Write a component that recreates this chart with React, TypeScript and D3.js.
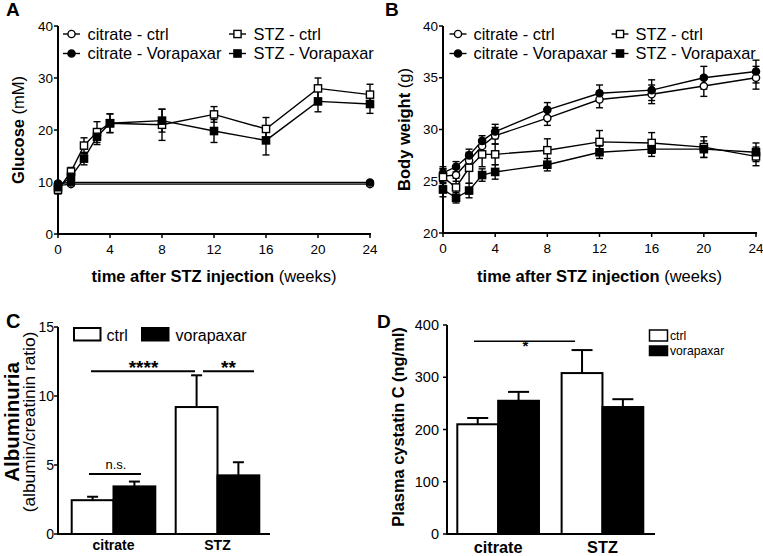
import React from "react";
import * as d3 from "d3";

const weeks = [0, 1, 2, 3, 4, 8, 12, 16, 20, 24];
const citWeeks = [0, 1, 24];

// Panel A: glucose (mM)
const gluCitCtrl = [9.3, 9.6, 9.6];
const gluCitCtrlErr = [0.4, 0.3, 0.3];
const gluCitVora = [9.7, 9.9, 9.9];
const gluCitVoraErr = [0.4, 0.3, 0.3];
const gluStzCtrl = [8.5, 12.0, 17.0, 19.6, 21.3, 21.0, 23.0, 20.2, 28.0, 26.8];
const gluStzCtrlErr = [0.8, 0.8, 1.5, 2.0, 1.8, 3.0, 1.5, 2.2, 2.0, 2.0];
const gluStzVora = [9.0, 11.0, 14.5, 18.7, 21.3, 21.8, 19.8, 18.0, 25.5, 25.0];
const gluStzVoraErr = [0.8, 1.0, 1.2, 1.5, 1.8, 2.2, 2.2, 2.8, 2.0, 1.8];

// Panel B: body weight (g)
const bwCitCtrl = [25.5, 25.6, 27.0, 28.4, 29.4, 31.1, 32.9, 33.4, 34.2, 35.0];
const bwCitCtrlErr = [0.7, 0.6, 0.7, 0.6, 0.8, 0.7, 0.8, 0.9, 1.0, 1.1];
const bwCitVora = [25.8, 26.4, 27.5, 28.9, 29.8, 31.9, 33.5, 33.8, 35.0, 35.6];
const bwCitVoraErr = [0.6, 0.5, 0.6, 0.5, 0.7, 0.7, 0.8, 1.0, 1.1, 1.1];
const bwStzCtrl = [25.4, 24.4, 26.3, 27.6, 27.6, 28.0, 28.8, 28.7, 28.3, 27.4];
const bwStzCtrlErr = [0.8, 0.9, 1.5, 1.2, 1.0, 1.1, 1.1, 1.0, 1.0, 0.9];
const bwStzVora = [24.2, 23.4, 24.1, 25.6, 25.9, 26.6, 27.8, 28.1, 28.1, 27.8];
const bwStzVoraErr = [0.7, 0.5, 0.7, 0.6, 0.7, 0.6, 0.6, 0.7, 0.8, 0.9];

const seriesNames = ["citrate - ctrl", "citrate - Vorapaxar", "STZ - ctrl", "STZ - Vorapaxar"];
const xTicks = [0, 4, 8, 12, 16, 20, 24];

// Panels C, D
const groups = ["citrate", "STZ"];
const treatments = ["ctrl", "vorapaxar"];
const albCtrl = [2.45, 9.2];
const albCtrlErr = [0.25, 2.3];
const albVora = [3.45, 4.25];
const albVoraErr = [0.35, 0.95];
const cysCtrl = [210, 308];
const cysCtrlErr = [12, 44];
const cysVora = [255, 243];
const cysVoraErr = [17, 15];

const FONT = "'Liberation Sans', Arial, sans-serif";

type Series = { x: number[]; y: number[]; e: number[]; marker: "circle" | "square"; filled: boolean };

function Marker({ x, y, kind, filled }: { x: number; y: number; kind: string; filled: boolean }) {
  const fill = filled ? "#000" : "#fff";
  if (kind === "circle") return <circle cx={x} cy={y} r={3.6} fill={fill} stroke="#000" strokeWidth={1.4} />;
  return <rect x={x - 3.6} y={y - 3.6} width={7.2} height={7.2} fill={fill} stroke="#000" strokeWidth={1.4} />;
}

function LinePanel({
  series, xr, yr, yDomain, yTicks, letter, letterX, titleBold, titleNorm, titleX, legendX, legendX2, textOff,
}: any) {
  const x = d3.scaleLinear().domain([0, 24]).range(xr);
  const y = d3.scaleLinear().domain(yDomain).range(yr);
  const line = d3.line<[number, number]>().x((d) => x(d[0])).y((d) => y(d[1]));
  const xMid = (xr[0] + xr[1]) / 2;
  return (
    <g>
      <text x={letterX} y={16} fontSize={19} fontWeight="bold">{letter}</text>
      {/* axes */}
      <line x1={xr[0]} x2={xr[0]} y1={yr[0] + 1} y2={yr[1]} stroke="#000" strokeWidth={2} />
      <line x1={xr[0] - 1} x2={xr[1] + 1} y1={yr[0]} y2={yr[0]} stroke="#000" strokeWidth={2} />
      {yTicks.map((t: number) => (
        <g key={"y" + t}>
          <line x1={xr[0] - 4} x2={xr[0]} y1={y(t)} y2={y(t)} stroke="#000" strokeWidth={1.5} />
          <text x={xr[0] - 5} y={y(t) + 4.5} fontSize={13.5} textAnchor="end">{t}</text>
        </g>
      ))}
      {xTicks.map((t) => (
        <g key={"x" + t}>
          <line x1={x(t)} x2={x(t)} y1={yr[0]} y2={yr[0] + 4} stroke="#000" strokeWidth={1.5} />
          <text x={x(t)} y={yr[0] + 20} fontSize={13.5} textAnchor="middle">{t}</text>
        </g>
      ))}
      <text x={xMid} y={282} fontSize={16.5} textAnchor="middle">
        <tspan fontWeight="bold">time after STZ injection</tspan> (weeks)
      </text>
      <text transform={`translate(${titleX},${(yr[0] + yr[1]) / 2}) rotate(-90)`} fontSize={16.5} textAnchor="middle">
        <tspan fontWeight="bold">{titleBold}</tspan> {titleNorm}
      </text>
      {/* series */}
      {series.map((s: Series, i: number) => {
        const pts = s.x.map((v, j) => [v, s.y[j]] as [number, number]);
        return (
          <g key={i}>
            <path d={line(pts) || ""} fill="none" stroke="#000" strokeWidth={1.4} />
            {pts.map((p, j) => (
              <g key={j}>
                <line x1={x(p[0])} x2={x(p[0])} y1={y(p[1] - s.e[j])} y2={y(p[1] + s.e[j])} stroke="#000" strokeWidth={1.4} />
                <line x1={x(p[0]) - 3.5} x2={x(p[0]) + 3.5} y1={y(p[1] - s.e[j])} y2={y(p[1] - s.e[j])} stroke="#000" strokeWidth={1.4} />
                <line x1={x(p[0]) - 3.5} x2={x(p[0]) + 3.5} y1={y(p[1] + s.e[j])} y2={y(p[1] + s.e[j])} stroke="#000" strokeWidth={1.4} />
              </g>
            ))}
          </g>
        );
      })}
      {series.map((s: Series, i: number) => (
        <g key={"m" + i}>
          {s.x.map((v, j) => (
            <Marker key={j} x={x(v)} y={y(s.y[j])} kind={s.marker} filled={s.filled} />
          ))}
        </g>
      ))}
      {/* legend */}
      {series.map((s: Series, i: number) => {
        const lx = i < 2 ? legendX : legendX2;
        const ly = i % 2 === 0 ? 34 : 53.5;
        return (
          <g key={"l" + i}>
            <line x1={lx - 8.5} x2={lx + 8.5} y1={ly} y2={ly} stroke="#000" strokeWidth={1.4} />
            <Marker x={lx} y={ly} kind={s.marker} filled={s.filled} />
            <text x={lx + textOff} y={ly + 5.5} fontSize={16.4}>{seriesNames[i]}</text>
          </g>
        );
      })}
    </g>
  );
}

function BarPanel({
  ctrl, ctrlErr, vora, voraErr, axisX, axisEnd, barStart, barEnd, pad, yDomain, yTicks, yr, capW,
  tickFont, tickGap, groupFont, groupY, children,
}: any) {
  const y = d3.scaleLinear().domain(yDomain).range(yr);
  const gx = d3.scaleBand().domain(groups).range([barStart, barEnd]).paddingInner(pad).paddingOuter(0);
  const tx = d3.scaleBand().domain(treatments).range([0, gx.bandwidth()]).padding(0);
  const vals = [ctrl, vora];
  const errs = [ctrlErr, voraErr];
  return (
    <g>
      {groups.map((g, gi) =>
        treatments.map((t, ti) => {
          const bx = (gx(g) as number) + (tx(t) as number);
          const w = tx.bandwidth();
          const v = vals[ti][gi];
          const e = errs[ti][gi];
          const cx = bx + w / 2;
          return (
            <g key={g + t}>
              <line x1={cx} x2={cx} y1={y(v)} y2={y(v + e)} stroke="#000" strokeWidth={2} />
              <line x1={cx - capW / 2} x2={cx + capW / 2} y1={y(v + e)} y2={y(v + e)} stroke="#000" strokeWidth={2} />
              <rect x={bx} y={y(v)} width={w} height={y(yDomain[0]) - y(v)} fill={ti === 0 ? "#fff" : "#000"} stroke="#000" strokeWidth={2} />
            </g>
          );
        })
      )}
      <line x1={axisX} x2={axisX} y1={yr[0] + 1} y2={yr[1]} stroke="#000" strokeWidth={2} />
      <line x1={axisX - 1} x2={axisEnd} y1={yr[0]} y2={yr[0]} stroke="#000" strokeWidth={2} />
      {yTicks.map((t: number) => (
        <g key={t}>
          <line x1={axisX - 4} x2={axisX} y1={y(t)} y2={y(t)} stroke="#000" strokeWidth={1.5} />
          <text x={axisX - tickGap} y={y(t) + 5} fontSize={tickFont} textAnchor="end">{t}</text>
        </g>
      ))}
      {groups.map((g) => (
        <text key={g} x={(gx(g) as number) + gx.bandwidth() / 2} y={groupY} fontSize={groupFont} fontWeight="bold" textAnchor="middle">{g}</text>
      ))}
      {children(y)}
    </g>
  );
}

export default function App() {
  const seriesA: Series[] = [
    { x: citWeeks, y: gluCitCtrl, e: gluCitCtrlErr, marker: "circle", filled: false },
    { x: citWeeks, y: gluCitVora, e: gluCitVoraErr, marker: "circle", filled: true },
    { x: weeks, y: gluStzCtrl, e: gluStzCtrlErr, marker: "square", filled: false },
    { x: weeks, y: gluStzVora, e: gluStzVoraErr, marker: "square", filled: true },
  ];
  const seriesB: Series[] = [
    { x: weeks, y: bwCitCtrl, e: bwCitCtrlErr, marker: "circle", filled: false },
    { x: weeks, y: bwCitVora, e: bwCitVoraErr, marker: "circle", filled: true },
    { x: weeks, y: bwStzCtrl, e: bwStzCtrlErr, marker: "square", filled: false },
    { x: weeks, y: bwStzVora, e: bwStzVoraErr, marker: "square", filled: true },
  ];
  return (
    <svg width={763} height={556} style={{ position: "absolute", left: 0, top: 0, background: "#fff" }} fontFamily={FONT}>
      <rect width={763} height={556} fill="#fff" />
      <LinePanel series={seriesA} xr={[58, 370]} yr={[234, 26]} yDomain={[0, 40]} yTicks={[0, 10, 20, 30, 40]}
        letter="A" letterX={6} titleBold="Glucose" titleNorm="(mM)" titleX={23.5} legendX={71.5} legendX2={237.5} textOff={16} />
      <LinePanel series={seriesB} xr={[443, 756]} yr={[233, 26]} yDomain={[20, 40]} yTicks={[20, 25, 30, 35, 40]}
        letter="B" letterX={385} titleBold="Body weight" titleNorm="(g)" titleX={410} legendX={458} legendX2={620} textOff={15.5} />

      {/* Panel C */}
      <text x={6} y={328} fontSize={20} fontWeight="bold">C</text>
      <text transform="translate(18.5,422) rotate(-90)" fontSize={20.5} fontWeight="bold" textAnchor="middle">Albuminuria</text>
      <text transform="translate(34.5,422) rotate(-90)" fontSize={17.3} textAnchor="middle">(albumin/creatinin ratio)</text>
      <BarPanel ctrl={albCtrl} ctrlErr={albCtrlErr} vora={albVora} voraErr={albVoraErr}
        axisX={58} axisEnd={270} barStart={71.7} barEnd={259.3} pad={0.196} yDomain={[0, 15]} yTicks={[0, 5, 10, 15]}
        yr={[534, 327]} capW={11} tickFont={14} tickGap={4} groupFont={14} groupY={550}>
        {(y: any) => (
          <g>
            <line x1={91} x2={195} y1={y(11.8)} y2={y(11.8)} stroke="#000" strokeWidth={2} />
            <text x={143.5} y={y(11.8) + 3} fontSize={19} fontWeight="bold" textAnchor="middle">****</text>
            <line x1={203} x2={254} y1={y(11.8)} y2={y(11.8)} stroke="#000" strokeWidth={2} />
            <text x={228.5} y={y(11.8) + 3} fontSize={19} fontWeight="bold" textAnchor="middle">**</text>
            <line x1={89} x2={141} y1={y(4.35)} y2={y(4.35)} stroke="#000" strokeWidth={2} />
            <text x={116} y={y(4.35) - 4.5} fontSize={13} textAnchor="middle">n.s.</text>
            <rect x={74} y={328} width={26.5} height={12.5} fill="#fff" stroke="#000" strokeWidth={2} />
            <text x={106.5} y={340.5} fontSize={16}>ctrl</text>
            <rect x={142} y={328} width={26.5} height={12.5} fill="#000" stroke="#000" strokeWidth={2} />
            <text x={175.5} y={340.5} fontSize={16}>vorapaxar</text>
          </g>
        )}
      </BarPanel>

      {/* Panel D */}
      <text x={377} y={328} fontSize={19} fontWeight="bold">D</text>
      <text transform="translate(403.5,427) rotate(-90)" fontSize={16.4} fontWeight="bold" textAnchor="middle">Plasma cystatin C (ng/ml)</text>
      <BarPanel ctrl={cysCtrl} ctrlErr={cysCtrlErr} vora={cysVora} voraErr={cysVoraErr}
        axisX={447} axisEnd={655} barStart={457.3} barEnd={643.3} pad={0.217} yDomain={[0, 400]} yTicks={[0, 100, 200, 300, 400]}
        yr={[534, 325]} capW={21} tickFont={14.5} tickGap={8} groupFont={16.3} groupY={553}>
        {(y: any) => (
          <g>
            <line x1={474} x2={575} y1={y(369)} y2={y(369)} stroke="#000" strokeWidth={1.5} />
            <text x={525.5} y={y(369) + 10} fontSize={15} fontWeight="bold" textAnchor="middle">*</text>
            <rect x={649.5} y={330} width={18} height={11} fill="#fff" stroke="#000" strokeWidth={1.5} />
            <text x={670} y={340} fontSize={12.2}>ctrl</text>
            <rect x={649.5} y={346} width={18} height={9.5} fill="#000" stroke="#000" strokeWidth={1.5} />
            <text x={670} y={355} fontSize={12.2}>vorapaxar</text>
          </g>
        )}
      </BarPanel>
    </svg>
  );
}
